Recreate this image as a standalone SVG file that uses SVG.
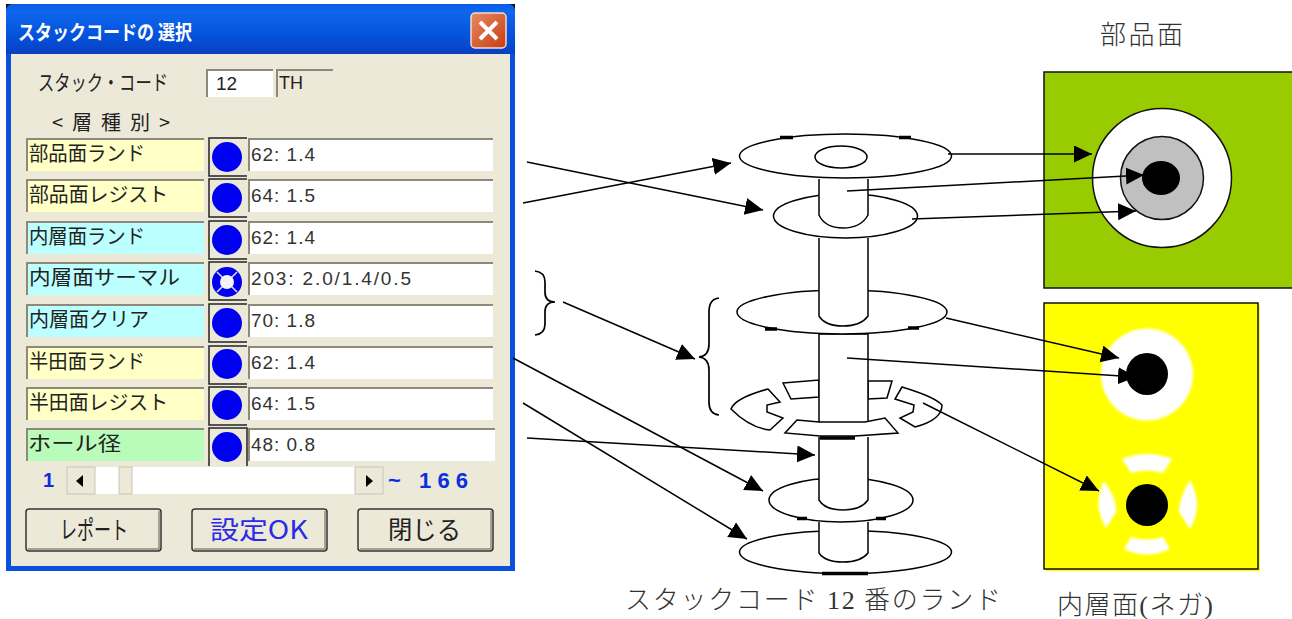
<svg xmlns="http://www.w3.org/2000/svg" width="1292" height="619" viewBox="0 0 1292 619">
<style>
text{font-family:"Noto Sans CJK JP","Liberation Sans",sans-serif;fill:#222}
.lab{font-size:20px}
.val{font-family:"Liberation Sans","Noto Sans CJK JP",sans-serif;font-size:19px;fill:#333}
.row{stroke:#8d8a7c;stroke-width:2;fill:none}
.sw{fill:#ece9d8;stroke:#222;stroke-width:1.5}
.dot{fill:#0000f0}
.cap{font-size:26px;font-weight:300;fill:#333}
.ser{font-family:"Liberation Serif",serif}
.btn{fill:#ece9d8;stroke:#333;stroke-width:1.5}
.shade{fill:none;stroke:#8d8a7c;stroke-width:1.5}
.sp{fill:#fff;stroke:#000;stroke-width:1.5}
.tk{stroke:#000;stroke-width:3.5;fill:none}
.cn{fill:none;stroke:#000;stroke-width:1.5;marker-end:url(#ah)}
.br{fill:none;stroke:#000;stroke-width:1.7}
.sb{fill:#ece9d8;stroke:#c9c6b6;stroke-width:1}
</style>
<defs>
<linearGradient id="tb" x1="0" y1="0" x2="0" y2="1"><stop offset="0" stop-color="#0a5ae6"/><stop offset=".15" stop-color="#0f66ee"/><stop offset=".7" stop-color="#0350d8"/><stop offset="1" stop-color="#0a3fc0"/></linearGradient>
<linearGradient id="cl" x1="0" y1="0" x2="1" y2="1"><stop offset="0" stop-color="#e88a60"/><stop offset="1" stop-color="#c73c14"/></linearGradient>
<marker id="ah" markerUnits="userSpaceOnUse" markerWidth="19" markerHeight="18" refX="18" refY="8.500" orient="auto"><path d="M0 0L18 8.500L0 17Z" fill="#000"/></marker>
<filter id="bl" x="-20%" y="-20%" width="140%" height="140%"><feGaussianBlur stdDeviation="1"/></filter>
</defs>

<g id="dialog">
<rect x="6" y="4" width="509" height="12" fill="#111"/>
<path d="M6 12Q6 4 14 4H507Q515 4 515 12V571H6Z" fill="#0a50dc"/>
<path d="M6 12Q6 4 14 4H507Q515 4 515 12V54H6Z" fill="url(#tb)"/>
<rect x="11" y="54" width="499" height="512" fill="#ece9d8"/>
<text x="18" y="40" font-size="20" font-weight="700" style="fill:#fff" textLength="174" lengthAdjust="spacingAndGlyphs">スタックコードの 選択</text>
<rect x="471" y="13" width="35" height="35" rx="4" fill="url(#cl)" stroke="#f2ddd0" stroke-width="1.5"/>
<path d="M480 22L497 39M497 22L480 39" stroke="#fff" stroke-width="4" fill="none"/>
<text x="38" y="90" font-size="21" textLength="130" lengthAdjust="spacingAndGlyphs">スタック・コード</text>
<rect x="206" y="70" width="67" height="27" fill="#fff"/><path d="M207 97V70H273" fill="none" stroke="#8d8a7c" stroke-width="2"/>
<text x="216" y="90" font-size="19" style="font-family:'Liberation Sans',sans-serif">12</text>
<path d="M277 97V70H333" fill="none" stroke="#8d8a7c" stroke-width="2"/>
<text x="279" y="89" font-size="19" style="font-family:'Liberation Sans',sans-serif" textLength="24" lengthAdjust="spacingAndGlyphs">TH</text>
<text x="52" y="130" font-size="20" textLength="118">&lt;層種別&gt;</text>
</g>

<g id="row1"><rect x="27" y="139" width="177" height="32" fill="#ffffc6"/><path class="row" d="M27 171V139H204"/><text class="lab" x="29" y="161" textLength="116" lengthAdjust="spacingAndGlyphs">部品面ランド</text><path class="sw" d="M247 138H209V176H247"/><circle class="dot" cx="227" cy="157" r="15"/><rect x="249" y="139" width="244" height="32" fill="#fff"/><path class="row" d="M249 171V139H493"/><text class="val" x="251" y="161" textLength="64">62: 1.4</text></g>
<g id="row2"><rect x="27" y="180" width="177" height="32" fill="#ffffc6"/><path class="row" d="M27 212V180H204"/><text class="lab" x="29" y="202" textLength="139" lengthAdjust="spacingAndGlyphs">部品面レジスト</text><path class="sw" d="M247 179H209V217H247"/><circle class="dot" cx="227" cy="198" r="15"/><rect x="249" y="180" width="244" height="32" fill="#fff"/><path class="row" d="M249 212V180H493"/><text class="val" x="251" y="202" textLength="64">64: 1.5</text></g>
<g id="row3"><rect x="27" y="222" width="177" height="32" fill="#bbffff"/><path class="row" d="M27 254V222H204"/><text class="lab" x="29" y="244" textLength="116" lengthAdjust="spacingAndGlyphs">内層面ランド</text><path class="sw" d="M247 221H209V259H247"/><circle class="dot" cx="227" cy="240" r="15"/><rect x="249" y="222" width="244" height="32" fill="#fff"/><path class="row" d="M249 254V222H493"/><text class="val" x="251" y="244" textLength="64">62: 1.4</text></g>
<g id="row4"><rect x="27" y="263" width="177" height="32" fill="#bbffff"/><path class="row" d="M27 295V263H204"/><text class="lab" x="29" y="285" textLength="151" lengthAdjust="spacingAndGlyphs">内層面サーマル</text><path class="sw" d="M247 262H209V300H247"/><circle class="dot" cx="227" cy="282" r="15"/><path d="M217 272L237 292M237 272L217 292" stroke="#dfe3fb" stroke-width="1.500"/><circle cx="227" cy="282" r="7" fill="#f4f4f4"/><rect x="249" y="263" width="244" height="32" fill="#fff"/><path class="row" d="M249 295V263H493"/><text class="val" x="251" y="285" textLength="160">203: 2.0/1.4/0.5</text></g>
<g id="row5"><rect x="27" y="305" width="177" height="32" fill="#bbffff"/><path class="row" d="M27 337V305H204"/><text class="lab" x="29" y="327" textLength="120" lengthAdjust="spacingAndGlyphs">内層面クリア</text><path class="sw" d="M247 304H209V342H247"/><circle class="dot" cx="227" cy="323" r="15"/><rect x="249" y="305" width="244" height="32" fill="#fff"/><path class="row" d="M249 337V305H493"/><text class="val" x="251" y="327" textLength="64">70: 1.8</text></g>
<g id="row6"><rect x="27" y="347" width="177" height="32" fill="#ffffc6"/><path class="row" d="M27 379V347H204"/><text class="lab" x="29" y="369" textLength="116" lengthAdjust="spacingAndGlyphs">半田面ランド</text><path class="sw" d="M247 346H209V384H247"/><circle class="dot" cx="227" cy="364" r="15"/><rect x="249" y="347" width="244" height="32" fill="#fff"/><path class="row" d="M249 379V347H493"/><text class="val" x="251" y="369" textLength="64">62: 1.4</text></g>
<g id="row7"><rect x="27" y="388" width="177" height="32" fill="#ffffc6"/><path class="row" d="M27 420V388H204"/><text class="lab" x="29" y="410" textLength="139" lengthAdjust="spacingAndGlyphs">半田面レジスト</text><path class="sw" d="M247 387H209V425H247"/><circle class="dot" cx="227" cy="405" r="15"/><rect x="249" y="388" width="244" height="32" fill="#fff"/><path class="row" d="M249 420V388H493"/><text class="val" x="251" y="410" textLength="64">64: 1.5</text></g>
<g id="row8"><rect x="27" y="429" width="177" height="32" fill="#b9fbb9"/><path class="row" d="M27 461V429H204"/><text class="lab" x="28" y="451" textLength="93" lengthAdjust="spacingAndGlyphs">ホール径</text><path class="sw" d="M247 466V428H209V466"/><circle class="dot" cx="227" cy="447" r="15"/><rect x="249" y="429" width="246" height="32" fill="#fff"/><path class="row" d="M249 461V429H495"/><text class="val" x="251" y="451" textLength="64">48: 0.8</text></g>

<g id="scrollbar">
<text x="43" y="487" font-size="20" font-weight="700" style="fill:#0a2ee0;font-family:'Liberation Sans',sans-serif">1</text>
<rect x="67" y="467" width="316" height="27" fill="#fff"/>
<rect class="sb" x="67" y="467" width="28" height="27"/><rect class="sb" x="119" y="467" width="13" height="27"/><rect class="sb" x="355" y="467" width="28" height="27"/>
<path d="M83 475L76 481L83 487Z" fill="#000"/><path d="M366 475L373 481L366 487Z" fill="#000"/>
<text x="388" y="488" font-size="22" font-weight="700" style="fill:#0a2ee0;font-family:'Liberation Sans',sans-serif" textLength="80">~ 166</text>
</g>
<g id="btn-report"><rect class="btn" x="26" y="509" width="135" height="42" rx="3"/><path class="shade" d="M28 549H159V511"/><text x="60" y="539" font-size="25" textLength="68" lengthAdjust="spacingAndGlyphs">レポート</text></g>
<g id="btn-ok"><rect class="btn" x="192" y="509" width="135" height="42" rx="3"/><path class="shade" d="M194 549H325V511"/><text x="210" y="539" font-size="25" style="fill:#2a2ae8" textLength="98" lengthAdjust="spacingAndGlyphs">設定OK</text></g>
<g id="btn-close"><rect class="btn" x="358" y="509" width="135" height="42" rx="3"/><path class="shade" d="M360 549H491V511"/><text x="388" y="539" font-size="25" textLength="73" lengthAdjust="spacingAndGlyphs">閉じる</text></g>

<g id="spindle">
<ellipse class="sp" cx="845.500" cy="552" rx="106" ry="21.500"/>
<path class="sp" d="M819 522V553Q825 562 843 562Q861 562 868 553V522"/>
<ellipse class="sp" cx="841" cy="500" rx="72" ry="22"/>
<path class="sp" d="M819 437V500Q825 510 843 510Q861 510 868 500V437"/>
<path class="sp" d="M783 383L819 380V397L791 399Z"/>
<path class="sp" d="M868 381H892L887 398L868 399Z"/>
<path class="sp" d="M768 389L780 402L767 405L767 412L783 418L770 430Q750 428 731 409Q735 398 768 389Z"/>
<path class="sp" d="M902 387L895 399L914 405L913 412L900 418L915 427Q942 420 942 405Q935 397 902 387Z"/>
<path class="sp" d="M819 334H868V423H819Z"/>
<path class="sp" d="M797 420L785 433L820 436H855L898 433L885 418L865 422H819Z"/>
<ellipse class="sp" cx="842" cy="312" rx="105" ry="22"/>
<path class="sp" d="M819 238V316Q825 326 843 326Q861 326 868 316V238"/>
<ellipse class="sp" cx="845.500" cy="216" rx="72" ry="22"/>
<path class="sp" d="M819 179V215Q825 228 843 228Q861 228 868 215V179"/>
<ellipse class="sp" cx="845.500" cy="156" rx="106" ry="22"/>
<ellipse class="sp" cx="841" cy="157" rx="26" ry="11"/>
<path class="tk" d="M780 137.500H793M899 137.500H911M765 329H777M908 328H919M797 518.500H807M876 518.500H886M822 573.500H868M820 438H855"/>
</g>

<g id="board-top">
<rect x="1044" y="72" width="249" height="216" fill="#99cc00" stroke="#111" stroke-width="1.500"/>
<circle cx="1162" cy="178" r="69.500" fill="#fff" stroke="#111" stroke-width="1.500"/>
<circle cx="1162" cy="178" r="41.500" fill="#c0c0c0" stroke="#111" stroke-width="1.500"/>
<ellipse cx="1161" cy="178" rx="19" ry="17" fill="#000"/>
</g>
<g id="board-inner">
<rect x="1046" y="305" width="214" height="266" fill="#ffff00"/>
<rect x="1044" y="303" width="214" height="266" fill="#ffff00" stroke="#111" stroke-width="1.500"/>
<g fill="#fff" filter="url(#bl)">
<circle cx="1147" cy="374.500" r="46"/>
<path d="M1122 459Q1147 449 1172 459L1163 473Q1147 468 1131 473Z"/>
<path d="M1131 537Q1147 542 1163 537L1170 549Q1147 560 1124 549Z"/>
<path d="M1104 481Q1117 498 1116 512L1106 528Q1092 505 1104 481Z"/>
<path d="M1190 480Q1204 505 1190 529L1179 512Q1179 498 1190 480Z"/>
</g>
<circle cx="1147" cy="374" r="21" fill="#000"/>
<circle cx="1147" cy="505" r="21" fill="#000"/>
</g>

<g id="connectors">
<path class="cn" d="M527 162L763 210"/>
<path class="cn" d="M523 203L731 163"/>
<path class="cn" d="M948 154H1092"/>
<path class="cn" d="M847 191L1144 175"/>
<path class="cn" d="M912 219L1136 211"/>
<path class="cn" d="M563 302L695 359"/>
<path class="cn" d="M946 318L1119 358"/>
<path class="cn" d="M847 358L1136 377"/>
<path class="cn" d="M923 403L1099 491"/>
<path class="cn" d="M527 438L815 455"/>
<path class="cn" d="M513 358L763 491"/>
<path class="cn" d="M523 403L747 539"/>
<path class="br" d="M535 271Q545 272 545 282V292Q545 302 555 302Q545 302 545 312V324Q545 334 535 335"/>
<path class="br" d="M719 298Q709 299 709 312V344Q709 356 699 357Q709 358 709 370V402Q709 414 719 415"/>
</g>

<g id="captions">
<text class="cap" x="1100" y="44" textLength="83">部品面</text>
<text class="cap" x="625" y="609" textLength="376">スタックコード <tspan class="ser">12</tspan> 番のランド</text>
<text class="cap" x="1057" y="614" textLength="156">内層面<tspan class="ser">(</tspan>ネガ<tspan class="ser">)</tspan></text>
</g>
</svg>
